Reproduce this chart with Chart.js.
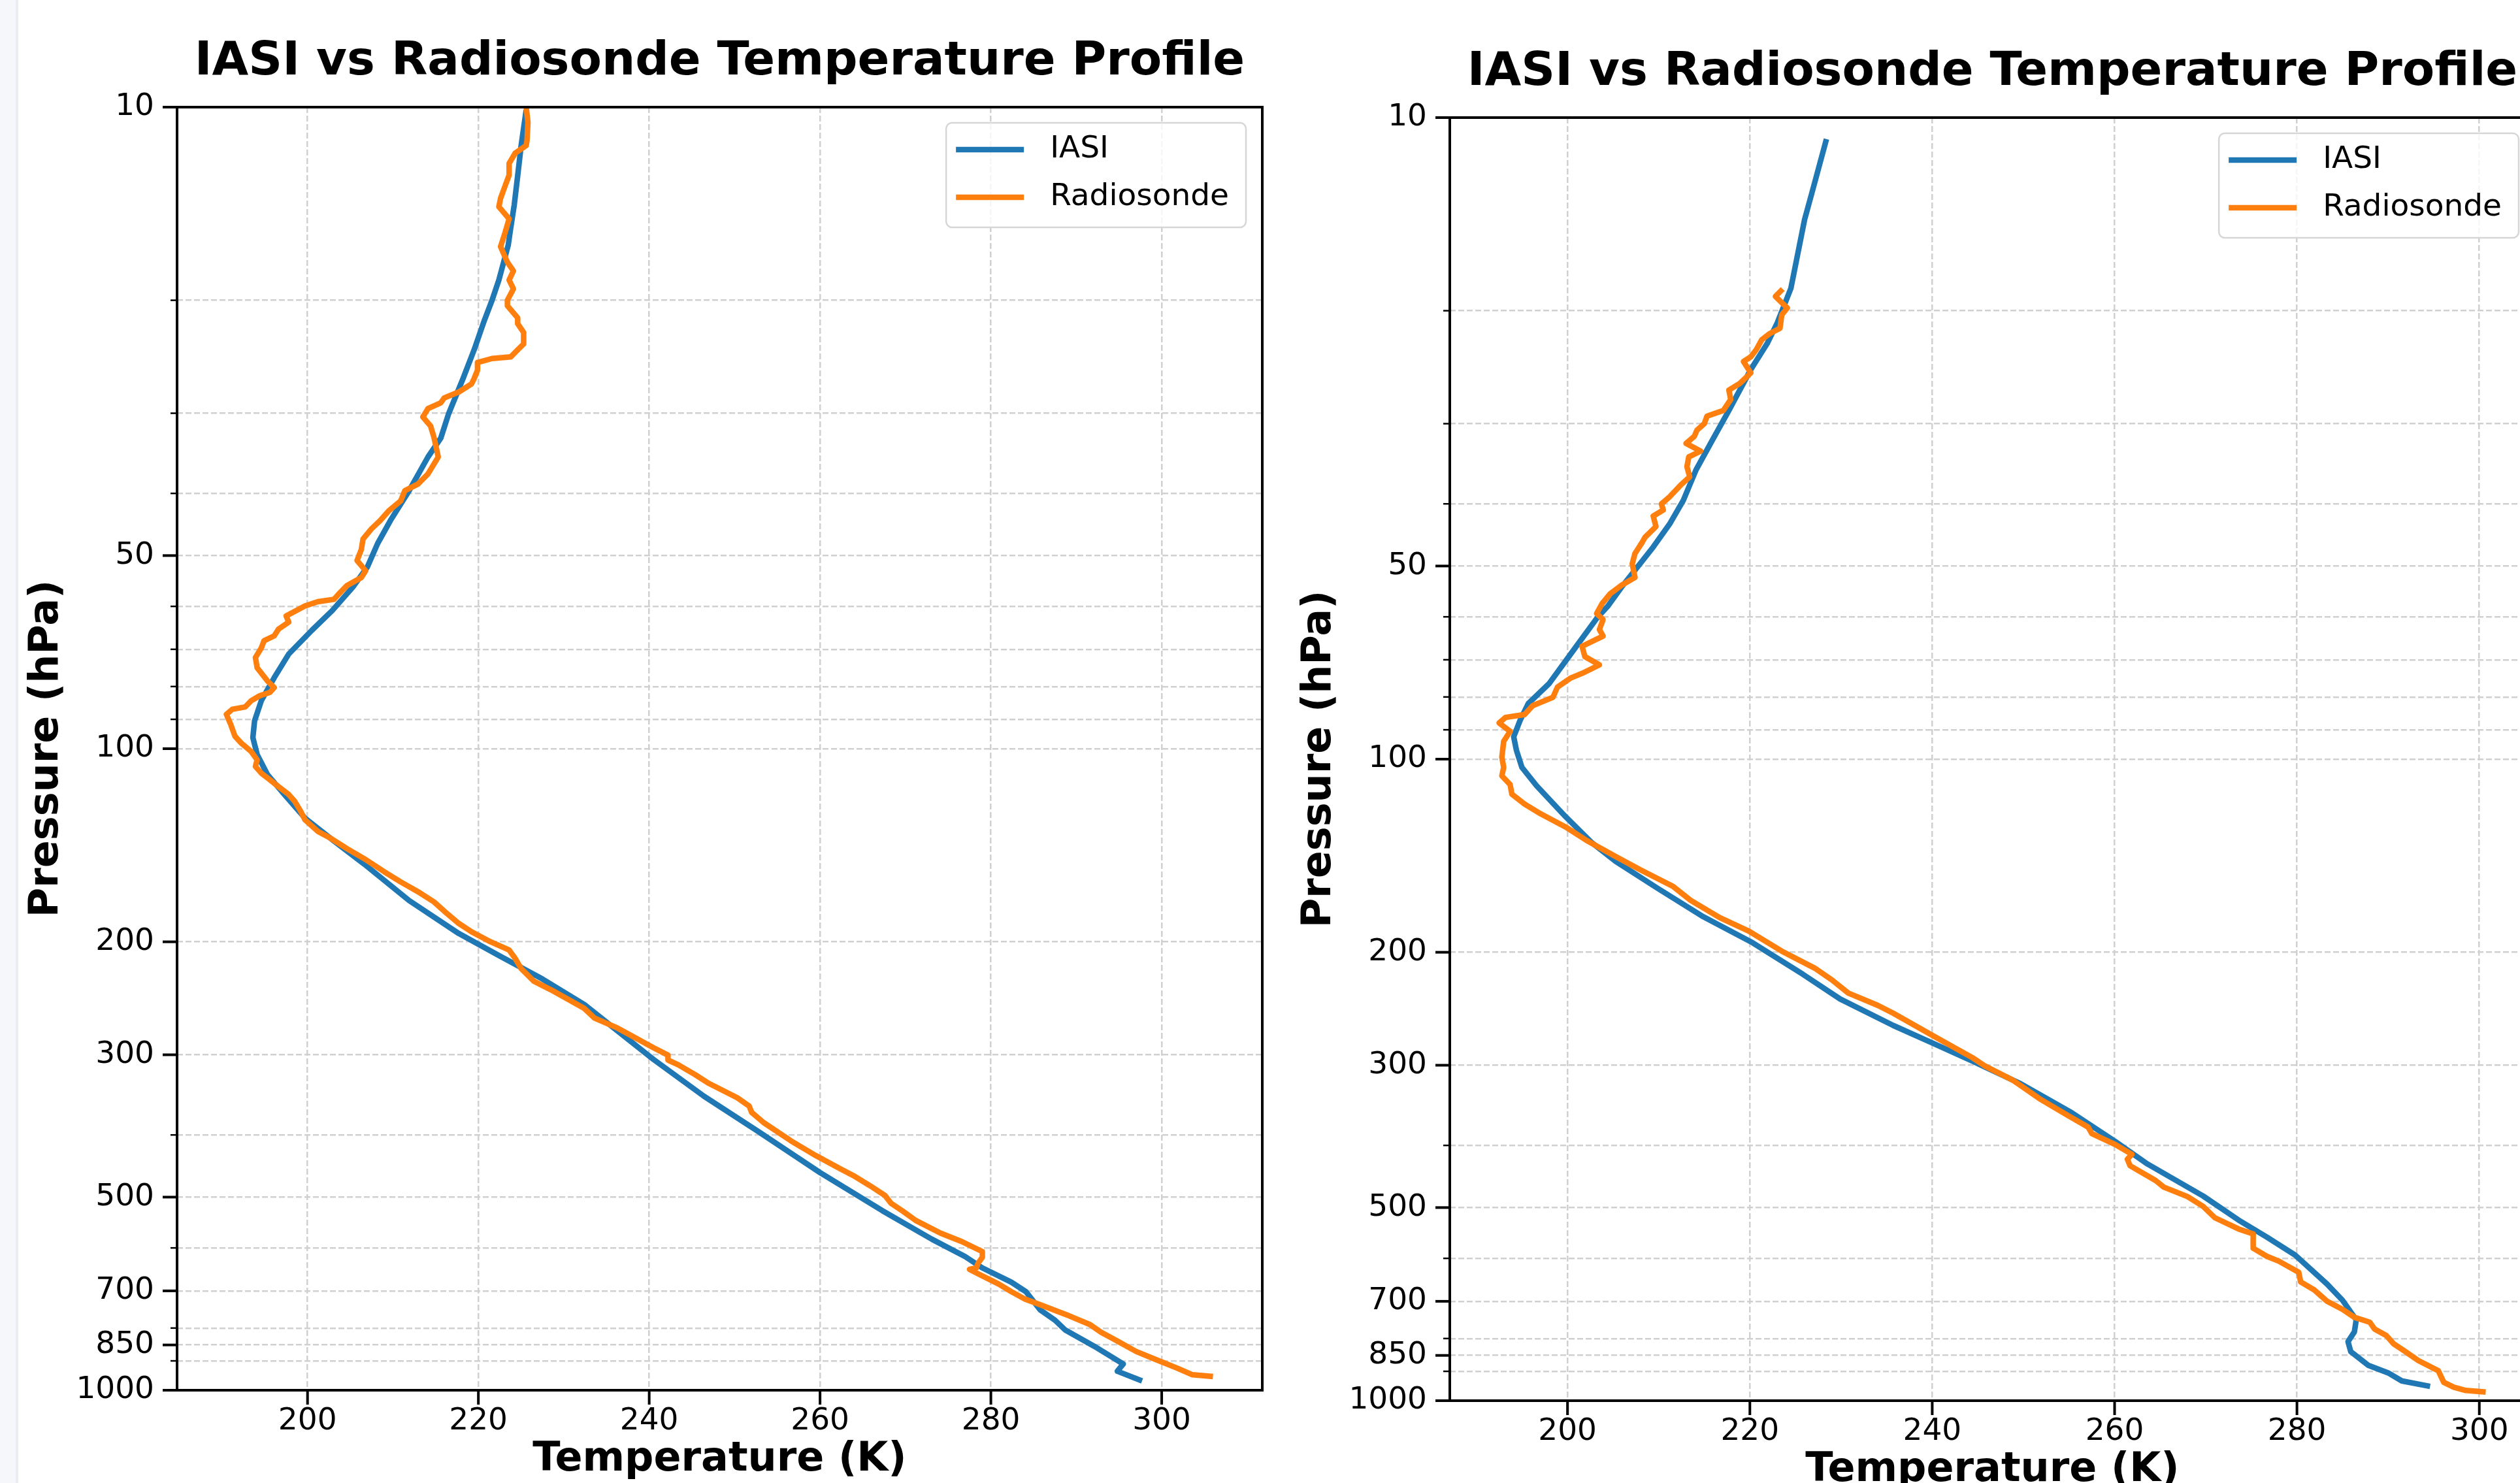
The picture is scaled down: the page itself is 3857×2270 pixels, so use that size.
<!DOCTYPE html>
<html>
<head>
<meta charset="utf-8">
<script src="https://cdn.jsdelivr.net/npm/chart.js@4.4.1/dist/chart.umd.min.js"></script>
<style>
html,body{margin:0;padding:0;width:3857px;height:2270px;overflow:hidden;background:#ffffff;}
#strip{position:absolute;left:0;top:0;width:24px;height:2270px;background:#f5f7fa;border-right:4px solid #e9edf2;}
canvas{position:absolute;}
#c1{left:0;top:0;width:1948px;height:2290px;}
#c2{left:1948px;top:16px;width:1948px;height:2290px;}
</style>
</head>
<body>
<div id="strip"></div>
<canvas id="c1" width="1948" height="2290"></canvas>
<canvas id="c2" width="1948" height="2290"></canvas>
<script>
// ---------- text ----------
const TITLE = 'IASI vs Radiosonde Temperature Profile';
const X_LABEL = 'Temperature (K)';
const Y_LABEL = 'Pressure (hPa)';
const SERIES_NAMES = ['IASI', 'Radiosonde'];
const SERIES_COLORS = ['#1f77b4', '#ff7f0e'];

// ---------- tick values ----------
const X_TICKS = [200, 220, 240, 260, 280, 300];
const Y_TICKS_MAJOR = [10, 50, 100, 200, 300, 500, 700, 850, 1000];
const Y_TICKS_MINOR = [20, 30, 40, 60, 70, 80, 90, 400, 600, 800, 900];

// ---------- left panel : IASI ----------
const leftIasiP = [10.1, 11.5, 12.8, 14.2, 15.7, 16.4, 18.6, 20.0, 21.5, 23.9, 26.5, 30.1, 32.8, 35.1,
  39.6, 44.1, 47.9, 52.1, 56.0, 60.9, 65.4, 71.2, 77.5, 84.1, 90.5, 96.1, 102.1, 109.7, 117.9,
  128.3, 139.3, 151.2, 172.5, 194.1, 210.8, 228.6, 250.5, 305, 348, 394.6, 457.9, 525, 581.6,
  619, 644.6, 678.5, 702, 750, 777.6, 805.5, 854, 910, 934, 967];
const leftIasiT = [225.6, 225.0, 224.6, 224.2, 223.7, 223.5, 222.4, 221.6, 220.7, 219.5, 218.2, 216.5, 215.6, 214.1,
  211.9, 209.7, 208.2, 207.0, 205.3, 202.9, 200.5, 197.8, 196.1, 194.6, 193.8, 193.6, 194.1, 195.3, 197.3,
  199.7, 203.1, 206.6, 211.9, 217.7, 222.6, 227.5, 232.4, 240.5, 246.4, 252.7, 260.0, 267.3, 273.1,
  277.0, 279.0, 282.4, 284.1, 285.8, 287.5, 288.7, 292.1, 295.5, 294.8, 297.7];

// ---------- left panel : Radiosonde ----------
const leftRsP = [10.0, 10.56, 11.25, 11.48, 11.8, 12.24, 12.76, 13.3, 13.87, 14.3, 14.93, 15.73, 16.5, 17.45,
  18.0, 18.6, 19.2, 20.0, 20.4, 21.3, 21.75, 22.45, 23.4, 23.9, 24.5, 24.65, 25.0, 25.7, 26.5, 27.0,
  27.8, 28.4, 28.9, 29.5, 30.4, 31.4, 32.7, 34.1, 35.1, 37.3, 38.7, 39.6, 41.1, 42.6, 44.1, 45.4,
  47.1, 48.9, 50.9, 52.8, 54.1, 55.7, 57.5, 58.5, 59.0, 59.9, 61.3, 62.1, 63.5, 65.1, 66.7, 67.9,
  69.6, 72.1, 74.8, 78.4, 80.3, 81.7, 82.7, 84.2, 86.1, 86.8, 88.4, 91.6, 95.6, 97.9, 101.0, 104.1,
  106.6, 109.2, 111.8, 114.6, 117.9, 120.8, 125.2, 129.1, 134.5, 137.9, 143.1, 148.3, 155.6, 161.3,
  167.0, 173.3, 180.6, 187.2, 192.9, 199.9, 206.0, 212.2, 220.1, 230.4, 237.6, 254, 263, 272.6,
  292.5, 300.4, 305.7, 311, 322.3, 332, 350, 360.6, 369, 382.7, 408.6, 430.8, 452, 462.8, 479.5,
  497, 511, 526, 543.7, 569, 586.6, 608, 620.5, 634, 644.7, 648, 658.4, 683, 702, 720, 736, 766,
  790, 812, 835.5, 870, 896.6, 923.6, 946, 952];
const leftRsT = [225.6, 225.8, 225.7, 225.6, 224.3, 223.6, 223.6, 223.1, 222.6, 222.4, 223.6, 223.1, 222.6, 223.4,
  224.1, 223.6, 224.1, 223.4, 223.4, 224.6, 224.6, 225.3, 225.3, 224.6, 223.8, 221.6, 219.9, 219.9, 219.5, 219.2,
  217.7, 216.0, 215.6, 214.1, 213.5, 214.4, 214.8, 215.1, 215.3, 214.1, 212.9, 211.4, 210.9, 209.5, 208.5, 207.5,
  206.5, 206.3, 205.8, 206.8, 206.3, 204.6, 203.6, 203.1, 201.2, 199.7, 198.3, 197.5, 197.8, 196.6, 196.1, 194.9,
  194.6, 193.9, 194.1, 195.3, 196.1, 195.6, 194.4, 193.4, 192.7, 191.2, 190.5, 191.0, 191.5, 192.2, 193.4, 194.1,
  193.9, 194.6, 195.6, 196.6, 197.8, 198.5, 199.2, 199.7, 201.2, 202.7, 204.6, 206.6, 209.0, 210.9,
  212.9, 214.8, 216.3, 217.7, 219.2, 221.4, 223.6, 224.3, 225.0, 226.5, 228.5, 232.4, 233.6, 236.3,
  240.5, 242.2, 242.2, 243.4, 245.4, 246.9, 250.3, 251.7, 252.0, 253.4, 256.6, 259.5, 262.4, 263.9, 265.8,
  267.6, 268.3, 269.7, 271.2, 274.1, 276.6, 279.0, 279.0, 278.5, 278.3, 277.5, 278.5, 280.9, 282.4, 283.9, 285.8, 289.2,
  291.6, 292.9, 294.6, 297.0, 299.4, 301.8, 303.6, 306.0];

// ---------- right panel : IASI ----------
const rightIasiP = [10.8, 12.95, 14.42, 18.45, 20.9, 22.5, 24.7, 28.6, 31.8, 35.4, 39.5, 43.0, 46.7, 49.5,
  54.0, 57.8, 60.1, 67.5, 76.2, 81.9, 87.0, 92.3, 96.9, 103.0, 110.0, 123.0, 134.7, 144.4, 158.7,
  176.1, 193.3, 216.4, 236.5, 260, 276.9, 295.6, 320.6, 355.8, 394.6, 427.6, 479.6, 523, 556, 593,
  658, 697.6, 748, 781, 809, 838.6, 880.4, 905, 931.5, 950];
const rightIasiT = [228.4, 226.9, 226.0, 224.5, 223.0, 221.9, 220.1, 217.7, 215.9, 214.1, 212.7, 211.2, 209.4, 208.0,
  205.9, 204.4, 203.3, 200.7, 198.0, 195.7, 194.8, 194.1, 194.4, 195.0, 196.6, 199.8, 202.6, 205.3, 209.8,
  214.9, 220.3, 225.8, 229.9, 235.7, 240.0, 244.4, 249.7, 255.3, 260.1, 263.6, 269.7, 273.6, 276.7, 279.8,
  283.3, 285.0, 286.5, 286.3, 285.6, 285.9, 287.8, 290.0, 291.5, 294.6];

// ---------- right panel : Radiosonde ----------
const rightRsP = [18.5, 19.0, 19.8, 20.3, 21.3, 21.7, 22.2, 23.0, 23.6, 24.0, 25.0, 25.96, 26.6, 27.5, 28.6,
  29.2, 30.0, 30.7, 31.4, 32.2, 33.1, 33.8, 35.0, 36.3, 37.4, 39.0, 40.0, 40.9, 41.8, 43.4, 45.1, 45.9,
  47.8, 49.6, 52.1, 53.6, 55.2, 57.2, 59.3, 60.6, 62.8, 64.3, 66.7, 69.2, 71.3, 73.5, 74.8, 77.2, 80.1,
  82.5, 85.2, 86.1, 87.8, 90.5, 93.8, 99.3, 103.0, 106.2, 109.5, 113.4, 117.5, 121.8, 127.6, 133.9,
  141.9, 148.8, 158.0, 166.0, 176.6, 185.4, 199.2, 211.7, 220.9, 231.6, 241.9, 248.8, 269.9, 291.9,
  300.4, 316.3, 325.7, 339.2, 359.5, 374.6, 383.3, 399, 413, 420.4, 430.3, 453.7, 464.6, 480.7, 497.8,
  518.6, 540, 549.6, 578.6, 595.6, 606, 630.7, 652.7, 672, 699.7, 720.6, 741.4, 754.8, 773, 791.5,
  815.2, 840.4, 865.6, 898, 936.3, 952.7, 963.8, 969.6];
const rightRsT = [223.6, 222.8, 224.1, 223.5, 223.3, 222.2, 221.3, 220.7, 220.1, 219.3, 220.1, 218.9, 217.7, 217.9, 217.1,
  215.3, 215.0, 214.2, 213.9, 213.0, 214.6, 213.3, 213.1, 213.4, 212.4, 211.2, 210.3, 210.5, 209.4, 209.7, 208.5, 208.2,
  207.4, 207.1, 207.4, 205.9, 204.7, 203.8, 203.2, 203.9, 203.5, 203.9, 201.6, 201.9, 203.5, 201.6, 200.3, 198.9, 198.4,
  196.2, 195.3, 193.2, 192.5, 193.7, 193.0, 192.8, 193.0, 192.8, 193.7, 193.9, 195.3, 197.1, 199.8, 202.1,
  205.3, 208.0, 211.6, 213.5, 216.7, 219.9, 223.5, 227.1, 229.0, 230.8, 234.0, 235.7, 240.1, 244.4,
  245.7, 248.8, 250.1, 251.9, 254.9, 257.1, 257.5, 260.1, 261.9, 261.4, 261.7, 264.5, 265.4, 268.0, 269.7,
  271.0, 273.6, 275.2, 275.2, 276.7, 278.0, 280.2, 280.4, 281.9, 283.3, 285.0, 286.3, 288.0, 288.5, 289.8,
  290.6, 292.0, 293.3, 295.5, 296.1, 297.2, 298.5, 300.7];

// ---------- rendering ----------
const FONT = "'DejaVu Sans', 'Liberation Sans', sans-serif";
const LINE_W = 8.5;
Chart.defaults.font.family = FONT;
Chart.defaults.color = '#000000';

function toPoints(pressures, temps) {
  return pressures.map((p, i) => ({ x: temps[i], y: p }));
}

const frameAndTicks = {
  id: 'frameAndTicks',
  afterDatasetsDraw(chart) {
    const { ctx, chartArea: { left, top, right, bottom }, scales: { x, y } } = chart;
    ctx.save();
    ctx.strokeStyle = '#000000';
    ctx.lineCap = 'butt';
    y.ticks.forEach(tk => {
      const py = y.getPixelForValue(tk.value);
      const major = Y_TICKS_MAJOR.includes(tk.value);
      ctx.lineWidth = major ? 4 : 2.5;
      ctx.beginPath();
      ctx.moveTo(left - (major ? 22 : 10), py);
      ctx.lineTo(left, py);
      ctx.stroke();
    });
    x.ticks.forEach(tk => {
      const px = x.getPixelForValue(tk.value);
      ctx.lineWidth = 4;
      ctx.beginPath();
      ctx.moveTo(px, bottom);
      ctx.lineTo(px, bottom + 22);
      ctx.stroke();
    });
    ctx.lineWidth = 4;
    ctx.lineJoin = 'miter';
    ctx.strokeRect(left, top, right - left, bottom - top);
    ctx.restore();
  }
};

const boxLegend = {
  id: 'boxLegend',
  afterDraw(chart) {
    const { ctx, chartArea } = chart;
    const fs = 47;
    ctx.save();
    ctx.font = fs + 'px ' + FONT;
    const labels = chart.data.datasets.map(d => d.label);
    const tw = Math.max(...labels.map(l => ctx.measureText(l).width));
    const padX = 15, handleLen = 104, gap = 40, padR = 26;
    const w = padX + handleLen + gap + tw + padR;
    const h = 160;
    const bx = chartArea.right - 25 - w;
    const by = chartArea.top + 24;
    ctx.beginPath();
    if (ctx.roundRect) { ctx.roundRect(bx, by, w, h, 9); } else { ctx.rect(bx, by, w, h); }
    ctx.fillStyle = 'rgba(255,255,255,0.8)';
    ctx.fill();
    ctx.strokeStyle = '#d6d6d6';
    ctx.lineWidth = 2.5;
    ctx.stroke();
    chart.data.datasets.forEach((d, i) => {
      const cy = by + 41 + i * 73;
      ctx.strokeStyle = d.borderColor;
      ctx.lineWidth = LINE_W;
      ctx.lineCap = 'butt';
      ctx.beginPath();
      ctx.moveTo(bx + padX, cy);
      ctx.lineTo(bx + padX + handleLen, cy);
      ctx.stroke();
      ctx.fillStyle = '#000000';
      ctx.textBaseline = 'middle';
      ctx.textAlign = 'left';
      ctx.fillText(d.label, bx + padX + handleLen + gap, cy);
    });
    ctx.restore();
  }
};

function makeChart(canvasId, iasiP, iasiT, rsP, rsT) {
  const allT = iasiT.concat(rsT);
  const tMin = Math.min(...allT), tMax = Math.max(...allT);
  const margin = 0.05 * (tMax - tMin);
  const gridOpts = { color: '#d0d0d0', lineWidth: 2.5, drawTicks: false };
  const borderOpts = { display: false, dash: [9, 4] };
  const tickFont = { family: FONT, size: 47 };
  const axisTitleFont = { family: FONT, size: 62, weight: 'bold', lineHeight: 1.2 };

  return new Chart(document.getElementById(canvasId), {
    type: 'line',
    data: {
      datasets: [
        { label: SERIES_NAMES[0], data: toPoints(iasiP, iasiT), borderColor: SERIES_COLORS[0],
          backgroundColor: SERIES_COLORS[0], borderWidth: LINE_W, pointRadius: 0, tension: 0, fill: false,
          order: 2, borderJoinStyle: 'round', borderCapStyle: 'butt' },
        { label: SERIES_NAMES[1], data: toPoints(rsP, rsT), borderColor: SERIES_COLORS[1],
          backgroundColor: SERIES_COLORS[1], borderWidth: LINE_W, pointRadius: 0, tension: 0, fill: false,
          order: 1, borderJoinStyle: 'round', borderCapStyle: 'butt' }
      ]
    },
    options: {
      responsive: false,
      animation: false,
      devicePixelRatio: 1,
      events: [],
      layout: { padding: { top: 0, left: 0, right: 16, bottom: 0 } },
      plugins: {
        legend: { display: false },
        tooltip: { enabled: false },
        title: {
          display: true, text: TITLE, fullSize: false, color: '#000000',
          font: { family: FONT, size: 72, weight: 'bold', lineHeight: 1.2 },
          padding: { top: 52.4, bottom: 25.2 }
        }
      },
      scales: {
        x: {
          type: 'linear', position: 'bottom',
          min: tMin - margin, max: tMax + margin,
          afterBuildTicks: s => { s.ticks = X_TICKS.map(v => ({ value: v })); },
          afterFit: s => { s.height = 162; },
          ticks: { color: '#000000', font: tickFont, padding: 20, autoSkip: false, maxRotation: 0,
                   callback: v => String(v) },
          grid: gridOpts,
          border: borderOpts,
          title: { display: true, text: X_LABEL, color: '#000000', font: axisTitleFont,
                   padding: { top: 0, bottom: 18.3 } }
        },
        y: {
          type: 'logarithmic', position: 'left', reverse: true, min: 10, max: 1000,
          afterBuildTicks: s => {
            s.ticks = Y_TICKS_MAJOR.concat(Y_TICKS_MINOR).sort((a, b) => a - b).map(v => ({ value: v }));
          },
          afterFit: s => { s.width = 271; },
          ticks: { color: '#000000', font: tickFont, padding: 35, autoSkip: false,
                   callback: v => (Y_TICKS_MAJOR.includes(v) ? String(v) : '') },
          grid: gridOpts,
          border: borderOpts,
          title: { display: true, text: Y_LABEL, color: '#000000', font: axisTitleFont,
                   padding: { top: 35, bottom: 0 } }
        }
      }
    },
    plugins: [frameAndTicks, boxLegend]
  });
}

makeChart('c1', leftIasiP, leftIasiT, leftRsP, leftRsT);
makeChart('c2', rightIasiP, rightIasiT, rightRsP, rightRsT);
</script>
</body>
</html>
